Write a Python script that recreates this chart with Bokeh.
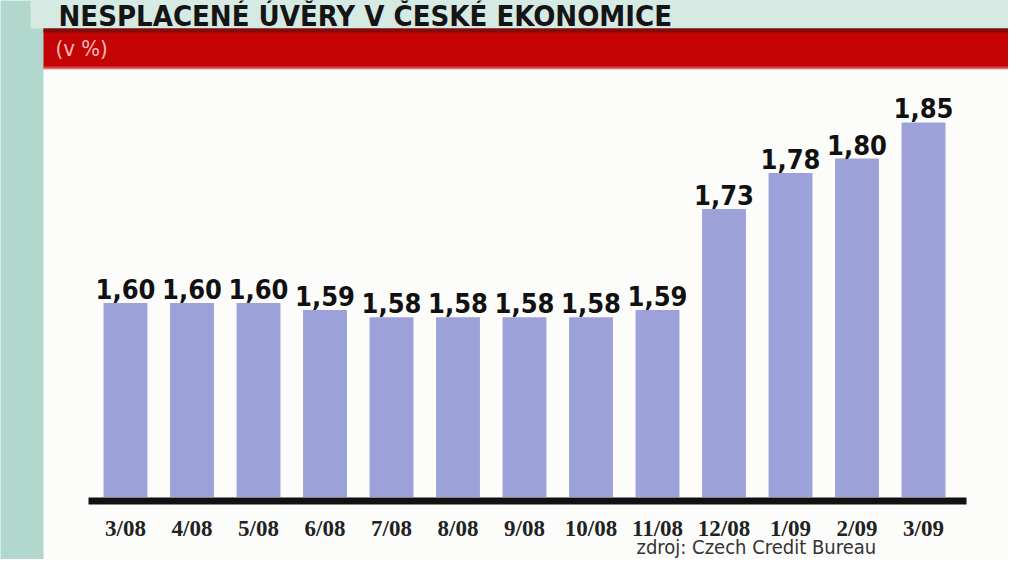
from bokeh.plotting import figure
from bokeh.models import Range1d, ColumnDataSource
from bokeh.core.properties import value
from bokeh.embed import file_html
from bokeh.resources import INLINE

# ---- data ----
categories = ["3/08", "4/08", "5/08", "6/08", "7/08", "8/08", "9/08",
              "10/08", "11/08", "12/08", "1/09", "2/09", "3/09"]
values = [1.60, 1.60, 1.60, 1.59, 1.58, 1.58, 1.58, 1.58, 1.59, 1.73, 1.78, 1.80, 1.85]
value_labels = [("%.2f" % v).replace(".", ",") for v in values]
title_text = "NESPLACENÉ ÚVĚRY V ČESKÉ EKONOMICE"
unit_text = "(v %)"
source_text = "zdroj: Czech Credit Bureau"
baseline = 1.331

W, H = 1008, 559
# picture-pixel to data helpers for decorative layout
def px2x(px):
    return (px - 125) / 66.5
def px2y(py):
    return 1.7043 - (py - 227.1) / 722.0

COND = value("DejaVu Sans Condensed")

p = figure(width=W, height=H, output_backend="svg", toolbar_location=None,
           x_range=Range1d(px2x(0), px2x(W)),
           y_range=Range1d(px2y(H), px2y(0)),
           x_axis_location=None, y_axis_location=None,
           min_border=0, min_border_left=0, min_border_right=0,
           min_border_top=0, min_border_bottom=0)
p.outline_line_color = None
p.xgrid.visible = False
p.ygrid.visible = False
p.background_fill_color = "#b2d8cd"
p.border_fill_color = "#b2d8cd"

# decorative panels
p.quad(left=px2x(30), right=px2x(1016), top=px2y(-5), bottom=px2y(28),
       fill_color="#d6eae4", line_color=None)
p.quad(left=px2x(43), right=px2x(1012), top=px2y(68), bottom=px2y(600),
       fill_color="#fcfdfb", line_color=None)
p.quad(left=px2x(43), right=px2x(1012), top=px2y(28), bottom=px2y(68),
       fill_color="#c40404", line_color=None)
p.quad(left=px2x(43), right=px2x(1012), top=px2y(28), bottom=px2y(32),
       fill_color="#7e0d0d", line_color=None)
p.quad(left=px2x(43), right=px2x(1012), top=px2y(66), bottom=px2y(69),
       fill_color="#e07070", line_color=None, fill_alpha=0.6)

# bars
src = ColumnDataSource(dict(x=list(range(len(categories))), top=values,
                            cat=categories, lab=value_labels))
p.vbar(x="x", top="top", bottom=baseline, width=0.66, source=src,
       fill_color="#9ca1da", line_color=None)

# axis line
p.quad(left=px2x(88), right=px2x(966), top=px2y(497), bottom=px2y(504),
       fill_color="#111111", line_color=None)

# value labels
p.text(x="x", y="top", text="lab", source=src, y_offset=-4,
       text_align="center", text_baseline="bottom",
       text_font=COND, text_font_style="bold",
       text_font_size="27px", text_color="#111111")

# category labels
p.text(x="x", y=px2y(528), text="cat", source=src,
       text_align="center", text_baseline="middle",
       text_font=value("Liberation Serif"), text_font_style="bold",
       text_font_size="23px", text_color="#222222")

# title, unit, source
p.text(x=[px2x(58)], y=[px2y(-2)], text=[title_text],
       text_align="left", text_baseline="top",
       text_font=COND, text_font_style="bold",
       text_font_size="29px", text_color="#151515")
p.text(x=[px2x(55)], y=[px2y(48)], text=[unit_text],
       text_align="left", text_baseline="middle",
       text_font=COND,
       text_font_size="22px", text_color="#f4bcbc")
p.text(x=[px2x(636)], y=[px2y(558)], text=[source_text],
       text_align="left", text_baseline="bottom",
       text_font=COND,
       text_font_size="20px", text_color="#333333")

open("out.html", "w").write(file_html(p, INLINE))
